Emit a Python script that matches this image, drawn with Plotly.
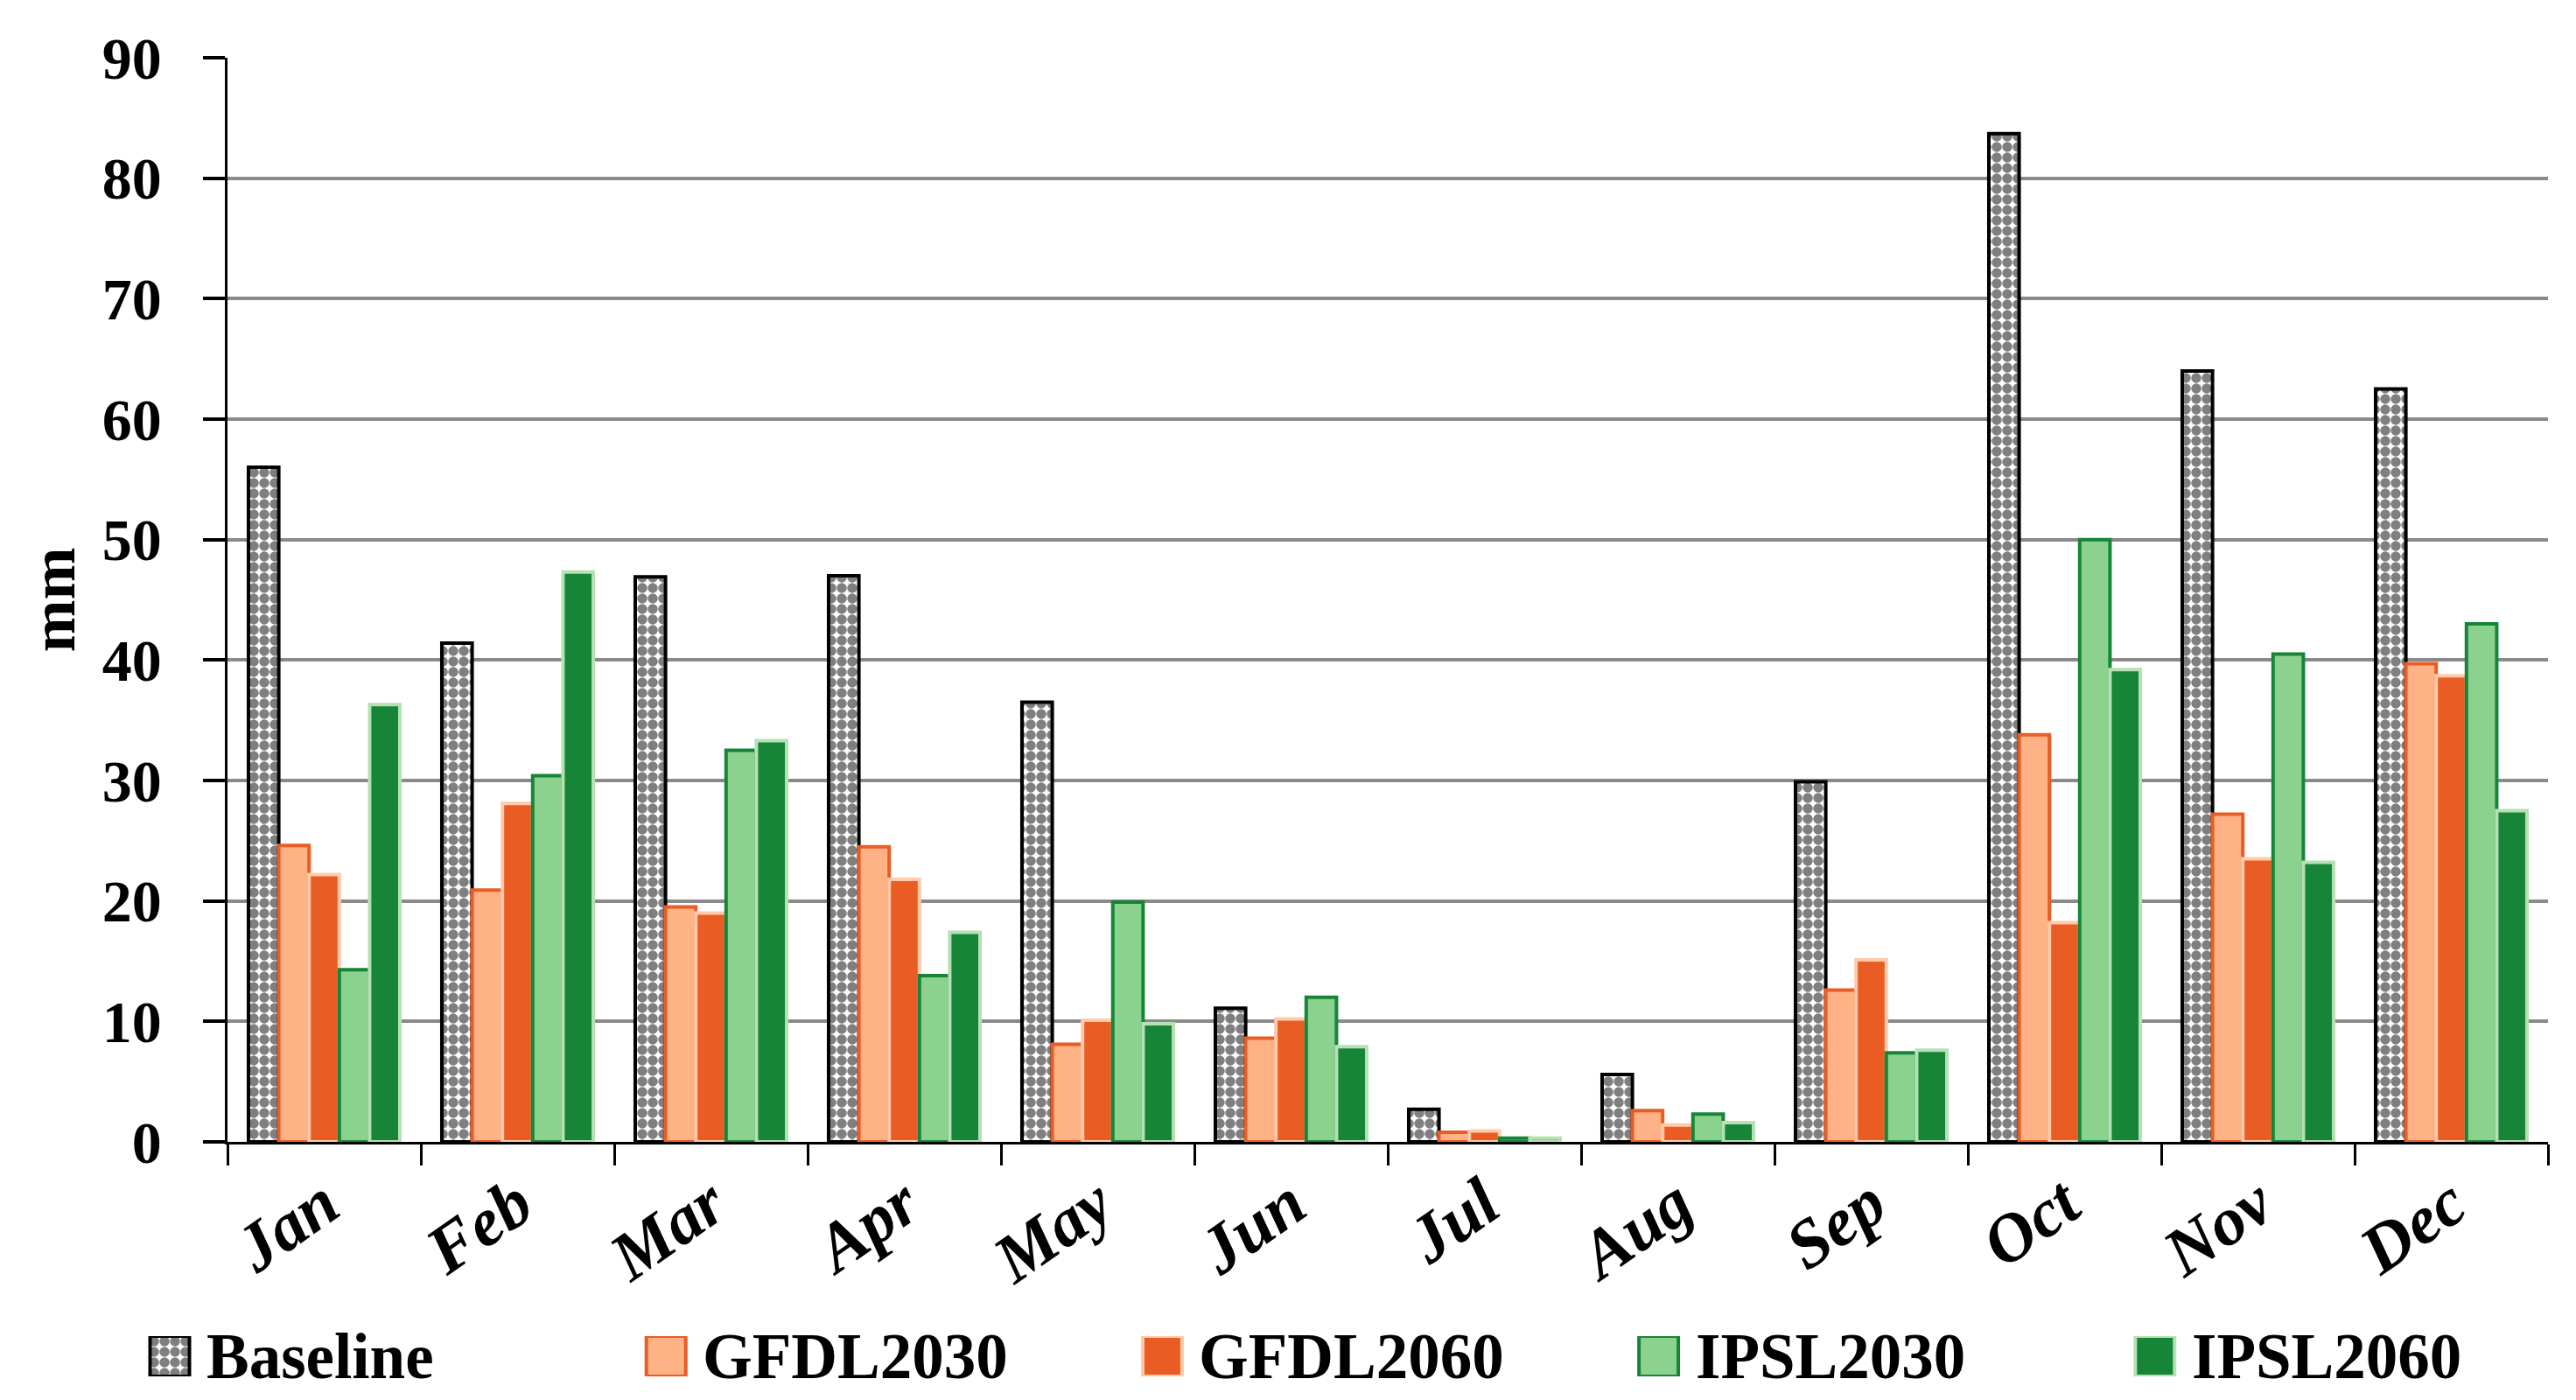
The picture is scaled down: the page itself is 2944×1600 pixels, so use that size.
import plotly.graph_objects as go

months = ["Jan", "Feb", "Mar", "Apr", "May", "Jun", "Jul", "Aug", "Sep", "Oct", "Nov", "Dec"]
series_names = ["Baseline", "GFDL2030", "GFDL2060", "IPSL2030", "IPSL2060"]

baseline = [56.0, 41.4, 46.9, 47.0, 36.5, 11.1, 2.7, 5.6, 29.9, 83.7, 64.0, 62.5]
gfdl2030 = [24.6, 20.9, 19.5, 24.5, 8.1, 8.6, 0.8, 2.6, 12.6, 33.8, 27.2, 39.7]
gfdl2060 = [22.2, 28.1, 19.0, 21.8, 10.1, 10.2, 0.9, 1.4, 15.1, 18.2, 23.5, 38.7]
ipsl2030 = [14.3, 30.4, 32.5, 13.8, 19.9, 12.0, 0.3, 2.3, 7.4, 50.0, 40.5, 43.0]
ipsl2060 = [36.3, 47.3, 33.3, 17.4, 9.8, 7.9, 0.3, 1.6, 7.6, 39.2, 23.2, 27.5]
y_ticks = [0, 10, 20, 30, 40, 50, 60, 70, 80, 90]

values = [baseline, gfdl2030, gfdl2060, ipsl2030, ipsl2060]

FONT = "Liberation Serif"
fills = ["white", "#FFB286", "#E95D25", "#8CD28F", "#178538"]
borders = ["black", "#E95D25", "#FFCBAA", "#178538", "#B5E1B4"]
LW = 4

def marker_for(i):
    m = dict(color=fills[i], line=dict(color=borders[i], width=LW))
    if i == 0:
        m["pattern"] = dict(shape=".", fgcolor="black", bgcolor="white",
                            size=12, solidity=0.72)
    return m

fig = go.Figure()
for i, name in enumerate(series_names):
    fig.add_trace(go.Bar(x=months, y=values[i], name=name, marker=marker_for(i),
                         xaxis="x", yaxis="y", showlegend=False))

# legend swatches drawn as a small bar strip
for i, name in enumerate(series_names):
    fig.add_trace(go.Bar(x=[name], y=[1], width=0.0793, marker=marker_for(i),
                         xaxis="x2", yaxis="y2", showlegend=False, hoverinfo="skip"))

W, H = 2944, 1600
ml, mr, mt, mb = 150, 40, 58, 20
pw = W - ml - mr
ph = H - mt - mb
x_left, y_zero = 252, 1297

annotations = []
for name in series_names:
    annotations.append(dict(x=name, y=0.5, xref="x2", yref="y2", text=name,
                            showarrow=False, xanchor="left", yanchor="middle", xshift=40,
                            font=dict(family=FONT, size=73, color="black", weight="bold")))
annotations.append(dict(x=(52 - ml) / pw, y=0.5 * (1 + (H - mb - y_zero) / ph), xref="paper", yref="paper",
                        text="mm", textangle=-90, showarrow=False,
                        xanchor="center", yanchor="middle",
                        font=dict(family=FONT, size=72, color="black", weight="bold")))

k = 567.2
r0 = -(186 - ml) / k
r1 = r0 + pw / k

fig.update_layout(
    width=W, height=H,
    margin=dict(l=ml, r=mr, t=mt, b=mb, autoexpand=False),
    paper_bgcolor="white", plot_bgcolor="white",
    barmode="group", bargap=0.217, bargroupgap=0,
    showlegend=False,
    font=dict(family=FONT, color="black"),
    xaxis=dict(domain=[(x_left - ml) / pw, 1], type="category",
               showline=True, linecolor="black", linewidth=3,
               ticks="outside", ticklen=24, tickwidth=2.5, tickcolor="black",
               tickson="boundaries", tickangle=-35, showgrid=False,
               ticklabelstandoff=-8,
               tickfont=dict(family=FONT, size=78, color="black", weight="bold", style="italic"),
               anchor="y", automargin=False),
    yaxis=dict(domain=[(H - mb - y_zero) / ph, 1], range=[0, 90], tickvals=y_ticks,
               showline=True, linecolor="black", linewidth=2.5,
               ticks="outside", ticklen=25, tickwidth=4, tickcolor="black",
               showgrid=True, gridcolor="#8A8A8A", gridwidth=3.5, zeroline=False,
               ticklabelstandoff=34,
               tickfont=dict(family=FONT, size=68, color="black", weight="bold"),
               anchor="x", automargin=False),
    xaxis2=dict(domain=[0, 1], type="category", range=[r0, r1], categoryorder="array",
                categoryarray=series_names, visible=False, anchor="y2", fixedrange=True),
    yaxis2=dict(domain=[(H - mb - 1565) / ph, (H - mb - 1519) / ph], range=[0, 1],
                visible=False, anchor="x2", fixedrange=True),
    annotations=annotations,
)

fig.write_html("out.html")
